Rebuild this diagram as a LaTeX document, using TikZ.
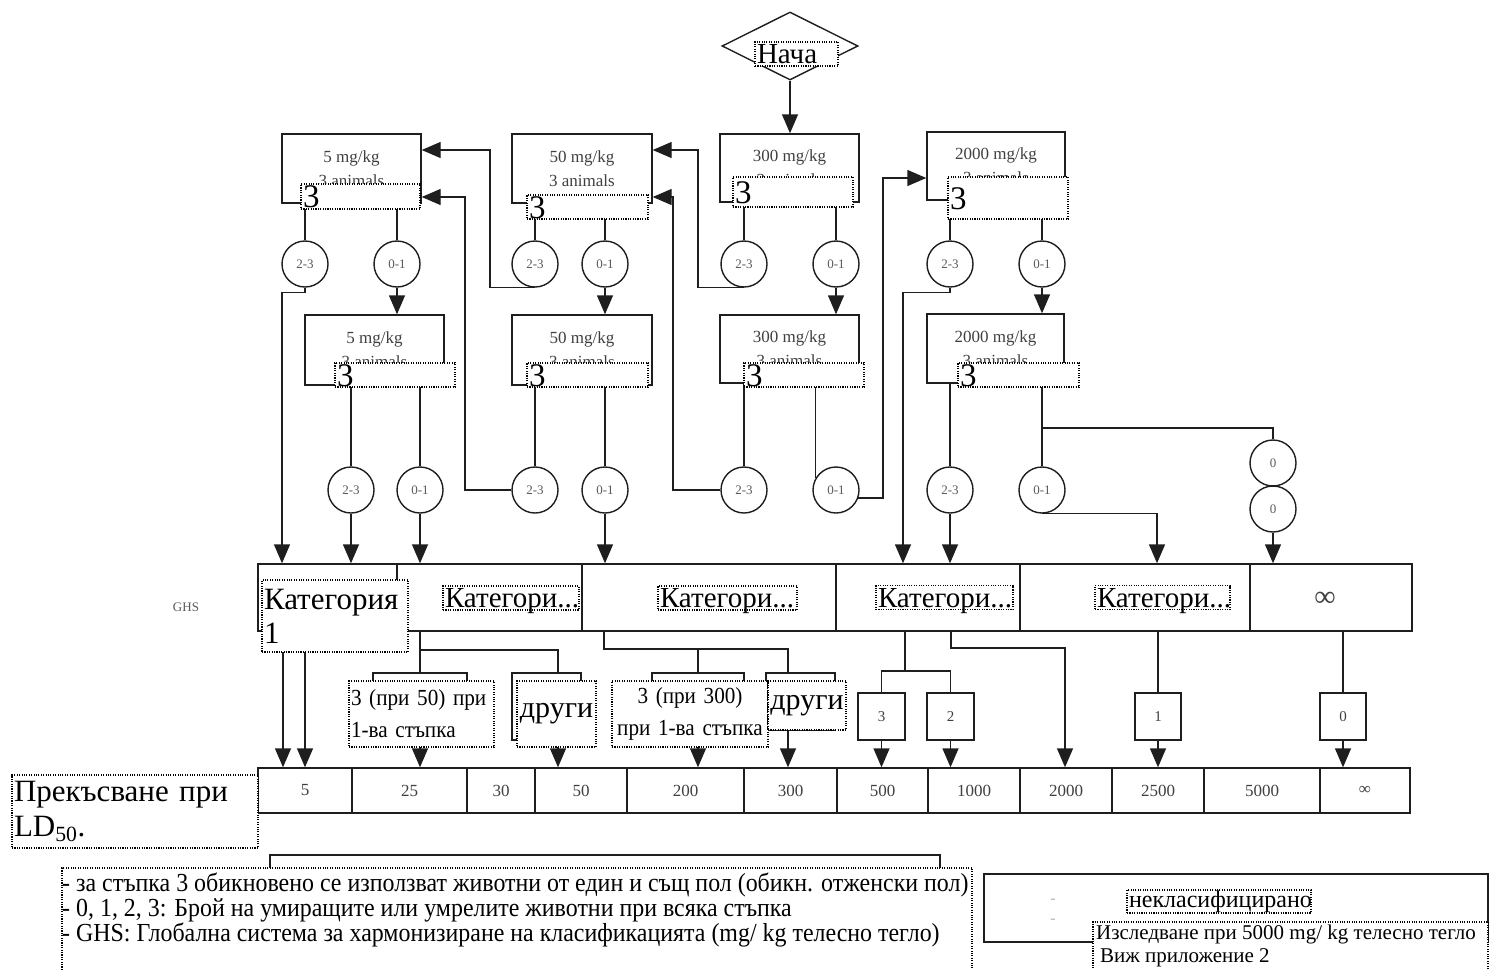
\documentclass[tikz,border=0pt]{standalone}
\usepackage{fontspec}
\setmainfont{Liberation Serif}
\newfontfamily\legfam[FakeStretch=0.92]{Liberation Serif}
\usetikzlibrary{arrows.meta,shapes.geometric}
\definecolor{lc}{HTML}{1E1E1E}
\definecolor{tc}{HTML}{404040}
\definecolor{cc}{HTML}{5A5A5A}
\definecolor{fc}{HTML}{B4B4B4}
\newcommand{\fs}[2]{\fontsize{#1pt}{#2pt}\selectfont}
\begin{document}
\begin{tikzpicture}[x=1pt,y=-1pt,
  ln/.style={line width=1.4pt, draw=lc},
  arr/.style={ln, -{Triangle[width=16pt,length=19pt]}},
  bx/.style={rectangle, draw=lc, line width=1.4pt, fill=white, inner sep=0pt, align=center, text=tc, font=\fs{17}{24}},
  sbx/.style={rectangle, draw=lc, line width=1.4pt, fill=white, inner sep=0pt, text=tc, font=\fs{15}{18}},
  cir/.style={circle, draw=lc, line width=1.4pt, fill=white, minimum size=46pt, inner sep=0pt, text=cc, font=\fs{13}{15}},
  cell/.style={rectangle, draw=lc, line width=1.4pt, inner sep=0pt, minimum height=67pt, align=center},
  num/.style={rectangle, draw=lc, line width=1.4pt, inner sep=0pt, minimum height=45pt, text=tc, font=\fs{17}{20}},
  ovl/.style={rectangle, draw=black, line width=1.1pt, dash pattern=on 1.1pt off 1.3pt, fill=white, inner sep=0pt},
  three/.style={ovl, inner xsep=2pt, align=left, font=\fs{33}{34}, text height=22pt, text depth=0pt},
  cat/.style={ovl, inner xsep=2pt, align=left, font=\fs{29}{32}, text height=19pt, text depth=0pt, minimum height=24pt},
  faint/.style={text=fc, inner sep=0pt},
]
\path[use as bounding box] (0,0) rectangle (1490,969);

% ---------- start
\node[diamond, draw=lc, line width=1.4pt, aspect=2, minimum width=136pt, minimum height=68pt, inner sep=0pt] (start) at (790,46) {};

% ---------- dose boxes
\node[bx, minimum width=139pt, minimum height=69pt] (b1a) at (351.5,168.5) {5 mg/kg\\3 animals};
\node[bx, minimum width=140pt, minimum height=69pt] (b1b) at (582,168.5) {50 mg/kg\\3 animals};
\node[bx, minimum width=139pt, minimum height=68pt] (b1c) at (789.5,168) {300 mg/kg\\3 animals};
\node[bx, minimum width=138pt, minimum height=68pt] (b1d) at (996,166) {2000 mg/kg\\3 animals};
\node[bx, minimum width=139pt, minimum height=70pt] (b2a) at (374.5,350) {5 mg/kg\\3 animals};
\node[bx, minimum width=140pt, minimum height=70pt] (b2b) at (582,350) {50 mg/kg\\3 animals};
\node[bx, minimum width=139pt, minimum height=68pt] (b2c) at (789.5,349) {300 mg/kg\\3 animals};
\node[bx, minimum width=137pt, minimum height=69pt] (b2d) at (995.5,348.5) {2000 mg/kg\\3 animals};

% ---------- outcome circles
\node[cir] (c1a) at (305,264) {2-3};
\node[cir] (c1b) at (397,264) {0-1};
\node[cir] (c1c) at (535,264) {2-3};
\node[cir] (c1d) at (605,264) {0-1};
\node[cir] (c1e) at (744,264) {2-3};
\node[cir] (c1f) at (836,264) {0-1};
\node[cir] (c1g) at (950,264) {2-3};
\node[cir] (c1h) at (1042,264) {0-1};
\node[cir] (c2a) at (351,490) {2-3};
\node[cir] (c2b) at (420,490) {0-1};
\node[cir] (c2c) at (535,490) {2-3};
\node[cir] (c2d) at (605,490) {0-1};
\node[cir] (c2e) at (744,490) {2-3};
\node[cir] (c2f) at (836,490) {0-1};
\node[cir] (c2g) at (950,490) {2-3};
\node[cir] (c2h) at (1042,490) {0-1};
\node[cir] (c0a) at (1273,463) {0};
\node[cir] (c0b) at (1273,509) {0};

% ---------- GHS row
\node[text=cc, font=\fs{13}{15}] (ghs) at (186,607) {GHS};
\node[cell, minimum width=139pt] (g1) at (327.5,597.5) {};
\node[cell, minimum width=185pt] (g2) at (489.5,597.5) {};
\node[cell, minimum width=254pt] (g3) at (709,597.5) {};
\node[cell, minimum width=184pt] (g4) at (928,597.5) {};
\node[cell, minimum width=230pt] (g5) at (1135,597.5) {};
\node[cell, minimum width=162pt] (g6) at (1331,597.5) {};
\node[text=tc, font=\fs{30}{32}, inner sep=0pt] (ginf) at (1325,599) {∞};

% ---------- small boxes
\node[sbx, minimum width=94pt, minimum height=67pt] (sb1) at (420,706.5) {};
\node[sbx, minimum width=69pt, minimum height=67pt] (sb2) at (546.5,706.5) {};
\node[sbx, minimum width=92pt, minimum height=67pt] (sb3) at (698,706.5) {};
\node[sbx, minimum width=69pt, minimum height=57pt] (sb4) at (800.5,701.5) {};
\node[sbx, minimum width=47pt, minimum height=47pt] (sb5) at (881.5,716.5) {3};
\node[sbx, minimum width=47pt, minimum height=47pt] (sb6) at (950.5,716.5) {2};
\node[sbx, minimum width=46pt, minimum height=47pt] (sb7) at (1158,716.5) {1};
\node[sbx, minimum width=46pt, minimum height=47pt] (sb8) at (1343,716.5) {0};

% ---------- LD50 cut-off row
\node[num, minimum width=94pt] (r1) at (305,790.5) {5};
\node[num, minimum width=115pt] (r2) at (409.5,790.5) {25};
\node[num, minimum width=68pt] (r3) at (501,790.5) {30};
\node[num, minimum width=92pt] (r4) at (581,790.5) {50};
\node[num, minimum width=117pt] (r5) at (685.5,790.5) {200};
\node[num, minimum width=93pt] (r6) at (790.5,790.5) {300};
\node[num, minimum width=91pt] (r7) at (882.5,790.5) {500};
\node[num, minimum width=92pt] (r8) at (974,790.5) {1000};
\node[num, minimum width=92pt] (r9) at (1066,790.5) {2000};
\node[num, minimum width=92pt] (r10) at (1158,790.5) {2500};
\node[num, minimum width=116pt] (r11) at (1262,790.5) {5000};
\node[num, minimum width=90pt] (r12) at (1365,790.5) {∞};

% ---------- legend frames
\node[rectangle, draw=lc, line width=1.4pt, minimum width=670pt, minimum height=110pt, inner sep=0pt] (legbox) at (605,910) {};
\node[rectangle, draw=lc, line width=1.4pt, minimum width=504pt, minimum height=68pt, inner sep=0pt] (rbox) at (1236,908) {};
\node[faint, font=\fs{16}{18}] (rr1) at (1053,901) {-};
\node[faint, font=\fs{16}{18}] (rr2) at (1053,921) {-};

% ---------- connectors, upper part
\draw[arr] (start.south) -- (start.south |- b1c.north);
\draw[ln] (b1a.south -| c1a.north) -- (c1a.north);
\draw[arr] (c1a.south) -- ++(0,5) -| (g1.north -| 282,0);
\draw[ln] (b1a.south -| c1b.north) -- (c1b.north);
\draw[arr] (c1b.south) -- (c1b.south |- b2a.north);
\draw[ln] (b1b.south -| c1c.north) -- (c1c.north);
\draw[arr] (c1c.south) -| (490,150) -- (b1a.east |- 0,150);
\draw[ln] (b1b.south -| c1d.north) -- (c1d.north);
\draw[arr] (c1d.south) -- (c1d.south |- b2b.north);
\draw[ln] (b1c.south -| c1e.north) -- (c1e.north);
\draw[arr] (c1e.south) -| (698,150) -- (b1b.east |- 0,150);
\draw[ln] (b1c.south -| c1f.north) -- (c1f.north);
\draw[arr] (c1f.south) -- (c1f.south |- b2c.north);
\draw[ln] (b1d.south -| c1g.north) -- (c1g.north);
\draw[arr] (c1g.south) -- ++(0,5) -| (g4.north -| 903,0);
\draw[ln] (b1d.south -| c1h.north) -- (c1h.north);
\draw[arr] (c1h.south) -- (c1h.south |- b2d.north);

\draw[ln] (b2a.south -| c2a.north) -- (c2a.north);
\draw[arr] (c2a.south) -- (c2a.south |- g1.north);
\draw[ln] (b2a.south -| c2b.north) -- (c2b.north);
\draw[arr] (c2b.south) -- (c2b.south |- g2.north);
\draw[ln] (b2b.south -| c2c.north) -- (c2c.north);
\draw[arr] (c2c.west) -| (465,197) -- (b1a.east |- 0,197);
\draw[ln] (b2b.south -| c2d.north) -- (c2d.north);
\draw[arr] (c2d.south) -- (c2d.south |- g3.north);
\draw[ln] (b2c.south -| c2e.north) -- (c2e.north);
\draw[arr] (c2e.west) -| (673,197) -- (b1b.east |- 0,197);
\draw[ln] (b2c.south -| c2f.150) -- (c2f.150);
\draw[arr] (c2f.-20) -| (883,178) -- (b1d.west |- 0,178);
\draw[ln] (b2d.south -| c2g.north) -- (c2g.north);
\draw[arr] (c2g.south) -- (c2g.south |- g4.north);
\draw[ln] (b2d.south -| c2h.north) -- (c2h.north);
\draw[ln] (c2h.north |- 0,428) -| (c0a.north);
\draw[ln] (c0a.south) -- (c0b.north);
\draw[arr] (c0b.south) -- (c0b.south |- g6.north);
\draw[arr] (c2h.south) -| (g5.north -| 1157,0);

% ---------- connectors, lower part
\draw[arr] (g1.south -| 283,0) -- (r1.north -| 283,0);
\draw[arr] (g1.south -| 305,0) -- (r1.north -| 305,0);
\draw[ln] (g2.south -| sb1.north) -- (sb1.north);
\draw[ln] (sb1.north |- 0,650) -| (sb2.north -| 558,0);
\draw[arr] (sb1.south) -- (sb1.south |- r2.north);
\draw[arr] (sb2.south -| 558,0) -- (r4.north -| 558,0);
\draw[ln] (g3.south -| 604,0) |- (788,649) -- (sb4.north -| 788,0);
\draw[ln] (sb3.north) -- (sb3.north |- 0,649);
\draw[arr] (sb3.south) -- (sb3.south |- r5.north);
\draw[arr] (sb4.south -| 788,0) -- (r6.north -| 788,0);
\draw[ln] (g4.south -| 905,0) -- (905,671);
\draw[ln] (sb5.north) |- (905,671) -| (sb6.north);
\draw[arr] (sb5.south) -- (sb5.south |- r7.north);
\draw[arr] (sb6.south) -- (sb6.south |- r8.north);
\draw[arr] (g4.south -| 951,0) |- (1065,648) -- (r9.north -| 1065,0);
\draw[ln] (g5.south -| sb7.north) -- (sb7.north);
\draw[arr] (sb7.south) -- (sb7.south |- r10.north);
\draw[ln] (g6.south -| sb8.north) -- (sb8.north);
\draw[arr] (sb8.south) -- (sb8.south |- r12.north);

% ---------- overlays (translated labels)
\node[ovl, text width=79pt, inner xsep=2pt, minimum height=24pt, align=left, font=\fs{29}{30}, text height=19pt, text depth=0pt] (ostart) at (796.5,54) {Нача};

\node[three, text width=115pt, minimum height=25pt] (o1a) at (360.5,196.5) {3};
\node[three, text width=117pt, minimum height=24pt] (o1b) at (587.5,207) {3};
\node[three, text width=116pt, minimum height=30pt] (o1c) at (793,192) {3};
\node[three, text width=116pt, minimum height=42pt] (o1d) at (1008,198) {3};
\node[three, text width=116pt, minimum height=24pt] (o2a) at (395,375) {3};
\node[three, text width=117pt, minimum height=24pt] (o2b) at (587.5,375) {3};
\node[three, text width=116pt, minimum height=24pt] (o2c) at (804,375) {3};
\node[three, text width=117pt, minimum height=24pt] (o2d) at (1018.5,375) {3};

\node[ovl, text width=142pt, inner xsep=2pt, minimum height=72pt, align=left, font=\fs{31}{34}] (og1) at (335,616) {Категория\\1};
\node[cat, text width=132pt] (og2) at (511,598) {Категори...};
\node[cat, text width=135pt] (og3) at (727.5,598) {Категори...};
\node[cat, text width=133pt] (og4) at (944.5,597.5) {Категори...};
\node[cat, text width=131pt] (og5) at (1162.5,597.5) {Категори...};

\node[ovl, text width=141pt, inner xsep=2pt, minimum height=66pt, align=left, font=\legfam\fs{23}{32}] (os1) at (421.5,714) {3 (при 50) при\\1-ва стъпка};
\node[ovl, text width=75pt, inner xsep=2pt, minimum height=66pt, align=center, font=\fs{30}{32}] (os2) at (556.5,714) {други};
\node[ovl, text width=152pt, inner xsep=2pt, minimum height=66pt, align=center, font=\legfam\fs{23}{32}] (os3) at (690,714) {3 (при 300)\\при 1-ва стъпка};
\node[ovl, text width=74pt, inner xsep=2pt, minimum height=49pt, align=center, font=\fs{30}{32}] (os4) at (807,705.5) {други};

\node[ovl, text width=242pt, inner xsep=2pt, minimum height=73pt, align=left, font=\fs{31}{35}] (ocut) at (135,811.5) {Прекъсване при\\LD\textsubscript{50}.};

\node[ovl, minimum width=910pt, minimum height=112pt] (oleg) at (517,924) {};
\node[anchor=north west, inner sep=0pt, align=left, font=\legfam\fs{26}{25}] (legtxt) at (62,873) {- за стъпка 3 обикновено се използват животни от един и същ пол (обикн. отженски пол)\\- 0, 1, 2, 3: Брой на умиращите или умрелите животни при всяка стъпка\\- GHS: Глобална система за хармонизиране на класификацията (mg/ kg телесно тегло)};

\node[ovl, text width=180pt, inner xsep=2pt, minimum height=23pt, align=left, font=\fs{24}{26}, text height=15pt, text depth=3pt] (or1) at (1219,901.5) {некласифицирано};
\node[ovl, minimum width=395pt, minimum height=60pt] (or2) at (1290.5,952) {};
\node[anchor=north west, inner sep=0pt, align=left, font=\fs{21}{23}] (ortxt) at (1096,925) {Изследване при 5000 mg/ kg телесно тегло\\\hspace*{4pt}Виж приложение 2};
\end{tikzpicture}
\end{document}
